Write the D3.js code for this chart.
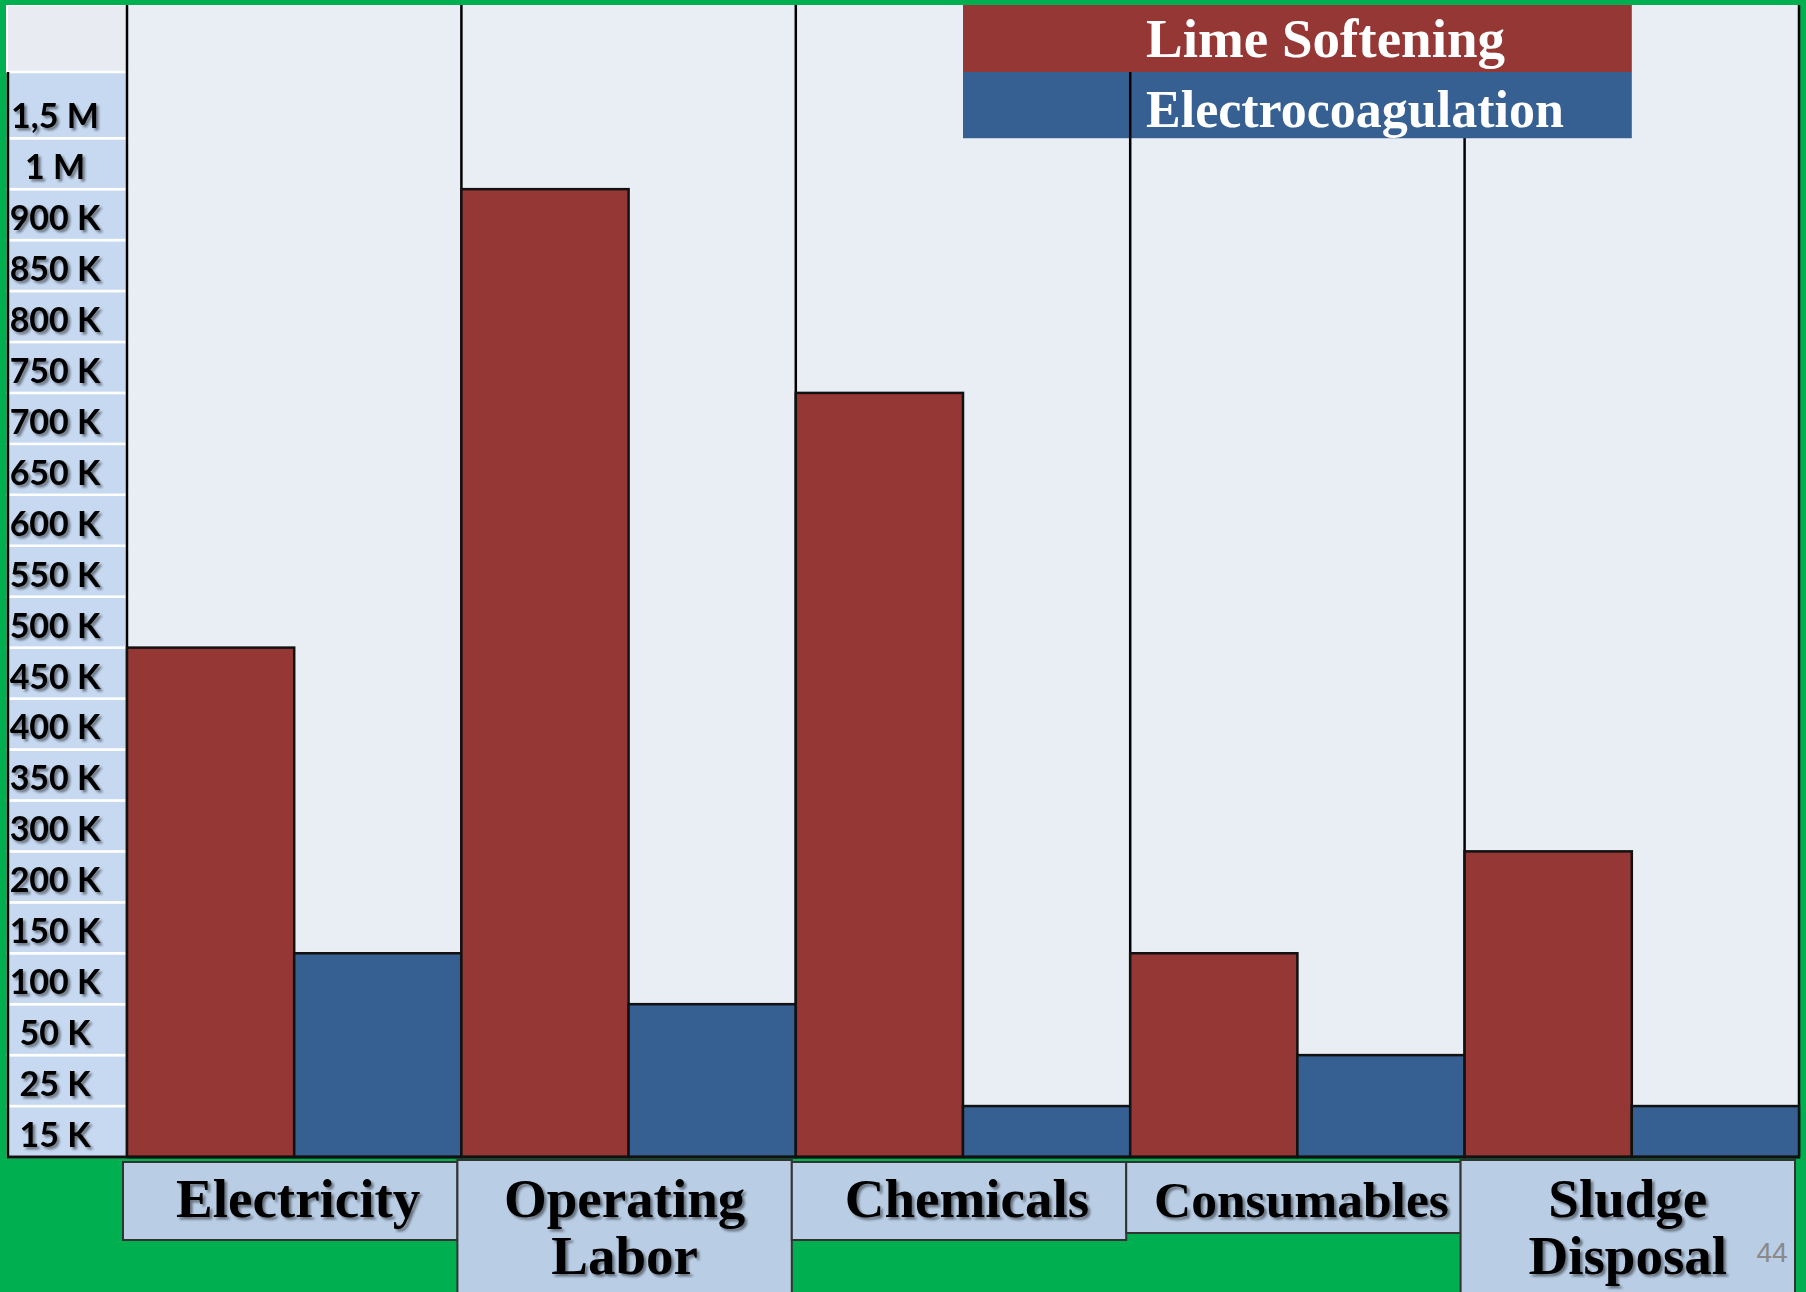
<!DOCTYPE html>
<html>
<head>
<meta charset="utf-8">
<script src="https://cdn.jsdelivr.net/npm/d3@7"></script>
<style>
  html, body { margin: 0; padding: 0; background: #00b050; }
  svg { display: block; }
</style>
</head>
<body>
<svg id="chart" width="1806" height="1292"></svg>
<script>
// Annual cost components for the two treatment options
const categories = ["Electricity", "Operating Labor", "Chemicals", "Consumables", "Sludge Disposal"];
const seriesNames = ["Lime Softening", "Electrocoagulation"];
const limeSoftening = [450000, 900000, 700000, 100000, 200000];
const electrocoagulation = [100000, 50000, 15000, 25000, 15000];

// Axis rows, bottom to top
const tickValues = [15000, 25000, 50000, 100000, 150000, 200000, 300000, 350000, 400000,
  450000, 500000, 550000, 600000, 650000, 700000, 750000, 800000, 850000, 900000, 1000000, 1500000];
const tickLabels = ["15 K", "25 K", "50 K", "100 K", "150 K", "200 K", "300 K", "350 K", "400 K",
  "450 K", "500 K", "550 K", "600 K", "650 K", "700 K", "750 K", "800 K", "850 K", "900 K", "1 M", "1,5 M"];

const pageNumber = "44";

const W = 1806, H = 1292;
const colors = { "Lime Softening": "#953735", "Electrocoagulation": "#366092" };
const green = "#00b050", plotBg = "#e9edf4", axisCell = "#c6d9f1", labelBox = "#b9cde4";

const frameTop = 5, frameLeft = 7, axisRight = 127, plotRight = 1799;
const gridTop = 72, baseline = 1157;

const svg = d3.select("#chart");

const defs = svg.append("defs");
defs.append("filter").attr("id", "txtShadow")
  .attr("x", "-10%").attr("y", "-20%").attr("width", "130%").attr("height", "150%")
  .append("feDropShadow")
  .attr("dx", 2.5).attr("dy", 2.5).attr("stdDeviation", 1.3)
  .attr("flood-color", "#000").attr("flood-opacity", 0.45);

// Row geometry: the top row is taller than the others
const nRows = tickValues.length;
const topRowFactor = 1.3;
const rowH = (baseline - gridTop) / (nRows - 1 + topRowFactor);
const rowTop = i => i === nRows - 1 ? gridTop : baseline - (i + 1) * rowH;
const rowBottom = i => baseline - i * rowH;

// Piecewise value scale: each labelled value sits on the top edge of its row
const y = d3.scaleLinear()
  .domain([0, ...tickValues])
  .range([baseline, ...tickValues.map((_, i) => rowTop(i))]);

const x = d3.scaleBand().domain(categories).range([axisRight, plotRight]).padding(0);
const xs = d3.scaleBand().domain(seriesNames).range([0, x.bandwidth()]).padding(0);

// Background
svg.append("rect").attr("width", W).attr("height", H).attr("fill", green);
svg.append("rect")
  .attr("x", axisRight).attr("y", frameTop)
  .attr("width", plotRight - axisRight).attr("height", baseline - frameTop)
  .attr("fill", plotBg);

// Axis column
const axisG = svg.append("g");
axisG.append("rect")
  .attr("x", frameLeft).attr("y", frameTop)
  .attr("width", axisRight - frameLeft).attr("height", gridTop - frameTop)
  .attr("fill", "#e8ecf2").attr("stroke", "#fff").attr("stroke-width", 2);
const rows = axisG.selectAll("g.row").data(tickValues).join("g").attr("class", "row");
rows.append("rect")
  .attr("x", frameLeft + 1)
  .attr("y", (d, i) => rowTop(i))
  .attr("width", axisRight - frameLeft - 1)
  .attr("height", (d, i) => rowBottom(i) - rowTop(i))
  .attr("fill", axisCell)
  .attr("stroke", "#fff").attr("stroke-width", 2.5);
rows.append("text")
  .attr("x", 55)
  .attr("y", (d, i) => rowBottom(i) - 10)
  .attr("text-anchor", "middle")
  .attr("font-family", "Lato, 'Open Sans', sans-serif")
  .attr("font-weight", 700)
  .attr("font-size", 34)
  .attr("fill", "#000")
  .attr("filter", "url(#txtShadow)")
  .text((d, i) => tickLabels[i]);
axisG.append("line")
  .attr("x1", frameLeft + 1).attr("x2", frameLeft + 1)
  .attr("y1", gridTop).attr("y2", baseline + 1)
  .attr("stroke", "#000").attr("stroke-width", 2.5);

// Category separators
const sepXs = categories.map(c => x(c)).concat([plotRight]);
svg.append("g").selectAll("line").data(sepXs).join("line")
  .attr("x1", d => d).attr("x2", d => d)
  .attr("y1", frameTop).attr("y2", baseline)
  .attr("stroke", "#000").attr("stroke-width", 2.5);

// Bars
const data = categories.map((c, i) => ({
  category: c,
  values: [
    { series: seriesNames[0], value: limeSoftening[i] },
    { series: seriesNames[1], value: electrocoagulation[i] }
  ]
}));
const groups = svg.append("g").selectAll("g").data(data).join("g")
  .attr("transform", d => `translate(${x(d.category)},0)`);
groups.selectAll("rect").data(d => d.values).join("rect")
  .attr("x", d => xs(d.series))
  .attr("y", d => y(d.value))
  .attr("width", xs.bandwidth())
  .attr("height", d => baseline - y(d.value))
  .attr("fill", d => colors[d.series])
  .attr("stroke", "#111").attr("stroke-width", 2.5);

// Baseline
svg.append("line")
  .attr("x1", frameLeft).attr("x2", plotRight + 1)
  .attr("y1", baseline).attr("y2", baseline)
  .attr("stroke", "#111").attr("stroke-width", 3);

// Legend spanning from the middle of "Chemicals" to the middle of "Sludge Disposal"
const legX0 = x("Chemicals") + x.bandwidth() / 2;
const legX1 = x("Sludge Disposal") + x.bandwidth() / 2;
const legRows = [
  { name: seriesNames[0], y0: frameTop, y1: gridTop, base: 57, size: 55 },
  { name: seriesNames[1], y0: gridTop, y1: rowBottom(nRows - 1), base: 127, size: 52 }
];
const legG = svg.append("g");
legG.selectAll("rect").data(legRows).join("rect")
  .attr("x", legX0).attr("y", d => d.y0)
  .attr("width", legX1 - legX0).attr("height", d => d.y1 - d.y0)
  .attr("fill", d => colors[d.name]);
// separator line showing through the lower legend row
legG.append("line")
  .attr("x1", x("Consumables")).attr("x2", x("Consumables"))
  .attr("y1", gridTop).attr("y2", legRows[1].y1)
  .attr("stroke", "#000").attr("stroke-width", 2.5);
legG.selectAll("text").data(legRows).join("text")
  .attr("x", 1146).attr("y", d => d.base)
  .attr("font-family", "'Liberation Serif', 'DejaVu Serif', serif")
  .attr("font-weight", 700)
  .attr("font-size", d => d.size)
  .attr("fill", "#fff")
  .text(d => d.name);

// Category label boxes
const boxG = svg.append("g").selectAll("g").data(categories).join("g");
boxG.append("rect")
  .attr("x", d => x(d) - 4)
  .attr("y", d => d.includes(" ") ? 1160 : 1162)
  .attr("width", x.bandwidth())
  .attr("height", d => d.includes(" ") ? 160 : (d === "Consumables" ? 71 : 78))
  .attr("fill", labelBox)
  .attr("stroke", "#333").attr("stroke-width", 2);
boxG.each(function (d) {
  const lines = d.split(" ");
  const cx = x(d) + x.bandwidth() / 2 + (lines.length > 1 ? -4 : 4);
  const t = d3.select(this).selectAll("text").data(lines).join("text")
    .attr("x", cx)
    .attr("y", (l, j) => 1217 + j * 57)
    .attr("text-anchor", "middle")
    .attr("font-family", "'Liberation Serif', 'DejaVu Serif', serif")
    .attr("font-weight", 700)
    .attr("font-size", 55)
    .attr("fill", "#000")
    .attr("filter", "url(#txtShadow)")
    .text(l => l);
  // shrink labels that are wider than the space allowed
  t.each(function () {
    const w = this.getComputedTextLength();
    const maxW = 295;
    if (w > maxW) d3.select(this).attr("font-size", 55 * maxW / w);
  });
});

// Slide number
svg.append("text")
  .attr("x", 1772).attr("y", 1262)
  .attr("text-anchor", "middle")
  .attr("font-family", "'Liberation Sans', sans-serif")
  .attr("font-size", 28)
  .attr("fill", "#8a8a8a")
  .text(pageNumber);

// Outer frame edges
svg.append("rect").attr("x", 0).attr("y", 0).attr("width", W).attr("height", frameTop).attr("fill", green);
svg.append("rect").attr("x", plotRight + 2).attr("y", 0).attr("width", W - plotRight - 2).attr("height", H).attr("fill", green);
</script>
</body>
</html>
